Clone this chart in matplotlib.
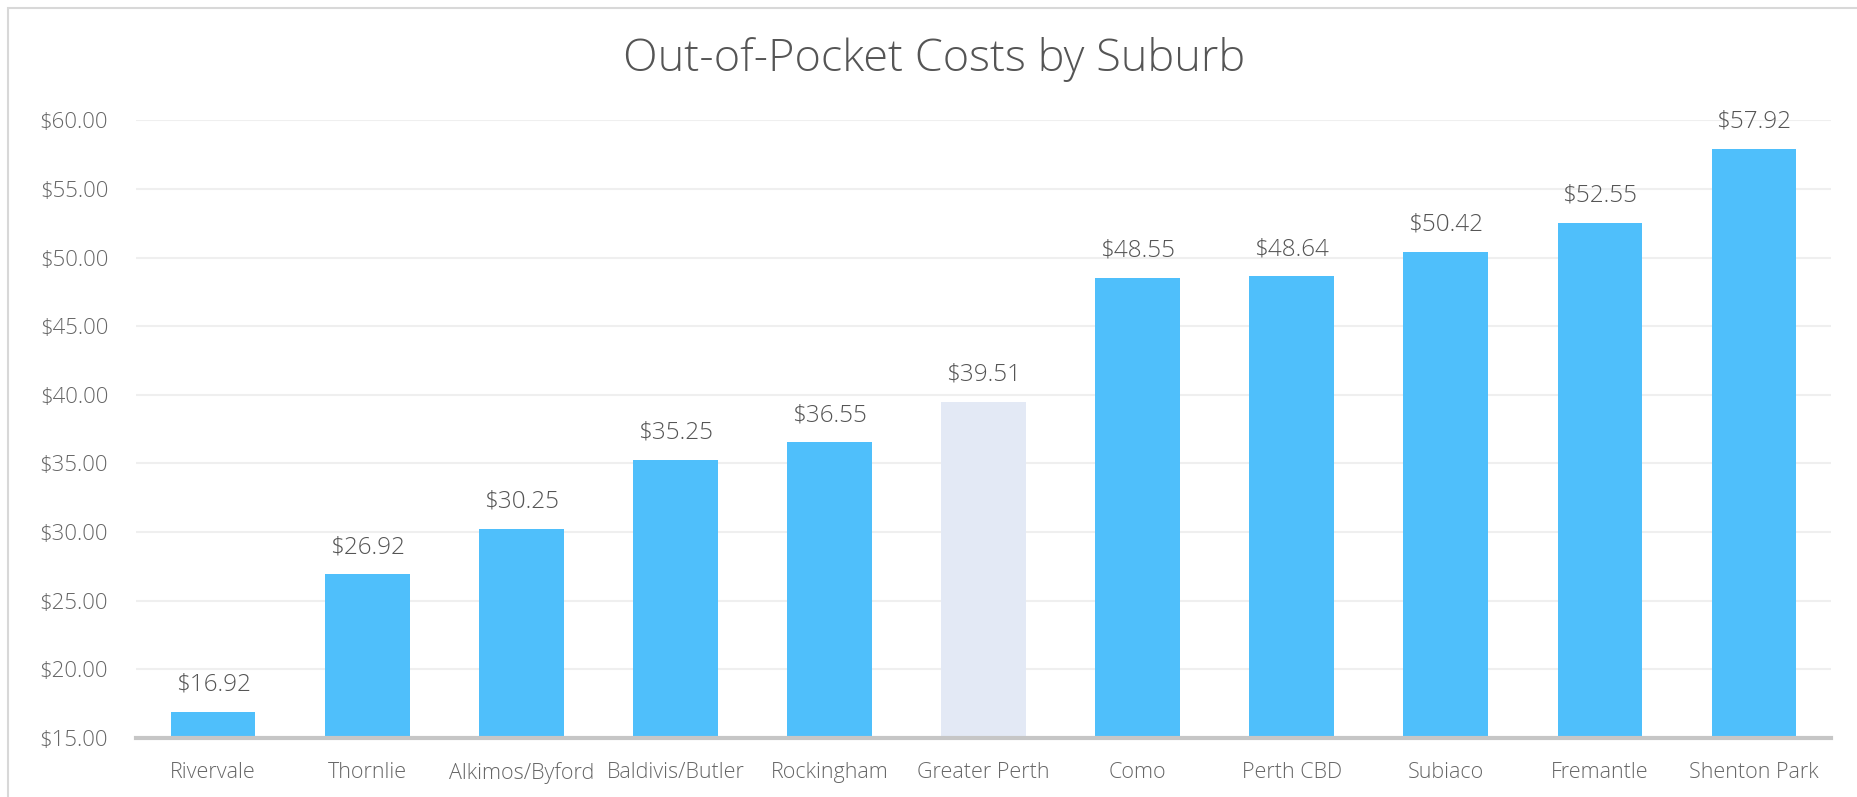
import matplotlib
matplotlib.use("Agg")
import matplotlib.pyplot as plt
from matplotlib.patches import Rectangle

# data
suburbs = ["Rivervale", "Thornlie", "Alkimos/Byford", "Baldivis/Butler", "Rockingham",
           "Greater Perth", "Como", "Perth CBD", "Subiaco", "Fremantle", "Shenton Park"]
costs = [16.92, 26.92, 30.25, 35.25, 36.55, 39.51, 48.55, 48.64, 50.42, 52.55, 57.92]
highlight = "Greater Perth"
yticks = [15, 20, 25, 30, 35, 40, 45, 50, 55, 60]

plt.rcParams['font.family'] = ['Open Sans', 'DejaVu Sans']

fig = plt.figure(figsize=(18.58, 7.97), dpi=100)
ax = fig.add_axes([0.0732, 0.074, 0.9123, 0.775])

colors = ["#E3E9F5" if s == highlight else "#4FBFFB" for s in suburbs]
x = range(len(suburbs))
bars = ax.bar(x, costs, width=0.55, color=colors, zorder=2)

for b, v in zip(bars, costs):
    ax.text(b.get_x() + b.get_width() / 2, v + 1.1, "$%.2f" % v, ha="center", va="bottom",
            fontsize=17.5, color="#555555", fontweight="light", clip_on=False)

ax.set_ylim(15, 60)
ax.set_xlim(-0.5, len(suburbs) - 0.5)
ax.set_yticks(yticks)
ax.set_yticklabels(["$%.2f" % t for t in yticks], fontweight="light")
ax.set_xticks(list(x))
ax.set_xticklabels(suburbs, fontweight="light")
ax.tick_params(axis="y", length=0, pad=20, labelsize=16, labelcolor="#666666")
ax.tick_params(axis="x", length=0, pad=17, labelsize=15.5, labelcolor="#666666")
ax.grid(axis="y", color="#EFEFEF", linewidth=1.5, zorder=0)
for s in ["top", "right", "left"]:
    ax.spines[s].set_visible(False)
ax.spines["bottom"].set_color("#C6C6C6")
ax.spines["bottom"].set_linewidth(3)
ax.spines["bottom"].set_zorder(3)

fig.text(0.503, 0.925, "Out-of-Pocket Costs by Suburb", ha="center", va="center",
         fontsize=32.5, color="#555555", fontweight="light")

# outer frame
fig.patches.append(Rectangle((8 / 1858, -0.05), 1.1, 1 - 8 / 797 + 0.05, transform=fig.transFigure,
                             fill=False, edgecolor="#D8D8D8", linewidth=1.5))

fig.savefig("out.png", dpi=100)
